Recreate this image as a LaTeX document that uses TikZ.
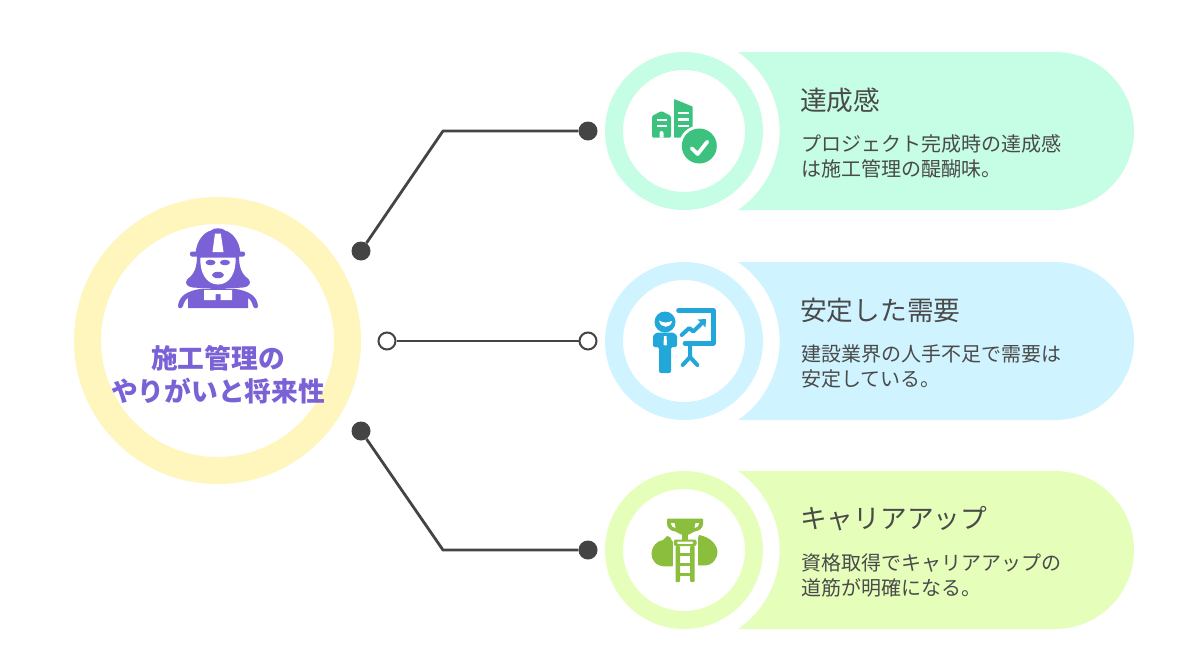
\documentclass[tikz,border=0pt]{standalone}
\usepackage{fontspec}
\setmainfont{Noto Sans CJK JP}
\definecolor{txtdark}{HTML}{4A4A4A}
\definecolor{dk}{HTML}{444444}
\definecolor{yel}{HTML}{FEF6BC}
\definecolor{pur}{HTML}{7A62D6}
\definecolor{gr}{HTML}{C6FDE5}
\definecolor{grd}{HTML}{3CC27E}
\definecolor{bl}{HTML}{D0F4FF}
\definecolor{bld}{HTML}{22A7DB}
\definecolor{li}{HTML}{E5FFBB}
\definecolor{lid}{HTML}{8ABE3C}
\tikzset{
  titlet/.style={anchor=west,inner sep=0pt,font=\fontsize{26.7}{30}\selectfont,text=txtdark},
  bodyt/.style={anchor=west,inner sep=0pt,align=left,font=\fontsize{20}{25}\selectfont,text=txtdark},
  dotf/.style={circle,fill=dk,minimum size=19pt,inner sep=0pt},
  doto/.style={circle,fill=white,draw=dk,line width=2pt,minimum size=17pt,inner sep=0pt},
  conn/.style={draw=dk,line width=2.8pt,line join=round},
  ringn/.style={circle,draw=#1,line width=18pt,fill=white,minimum size=140pt,inner sep=0pt},
  wl/.style={draw=white,line cap=round,line join=round},
  bluel/.style={draw=bld,line cap=round,line join=round},
}
\begin{document}
\begin{tikzpicture}[x=1pt,y=-1pt]
\useasboundingbox (0,0) rectangle (1200,672);
\fill[white] (0,0) rectangle (1200,672);

% hub
\node[circle,draw=yel,line width=27pt,fill=white,minimum size=260pt,inner sep=0pt] (hub) at (217.5,340.5) {};
\node[inner sep=0pt,align=center,text=pur,font=\fontsize{26.7}{33}\selectfont\bfseries] (hubt) at (218,374.5) {施工管理の\\やりがいと将来性};

% worker icon
\fill[pur,rounded corners=2pt] (190,251.5) -- (245,251.5) -- (245,256.5) -- (190,256.5) -- cycle;
\fill[pur] (195.5,253) .. controls (197,239) and (205,232) .. (211,230.5) .. controls (214,227.5) and (222,227.5) .. (225,230.5) .. controls (231,232) and (239,239) .. (240.5,253) -- cycle;
\fill[white] (215,233.5) -- (220.8,233.5) -- (223.5,252) -- (212.5,252) -- cycle;
\fill[pur] (197,256) .. controls (197,266) and (195,274) .. (187.5,279) .. controls (184,283) and (187,287) .. (193,287.5) .. controls (200,288.5) and (208,287) .. (212,289) -- (224,289) .. controls (228,287) and (236,288.5) .. (243,287.5) .. controls (249,287) and (252,283) .. (248.5,279) .. controls (241,274) and (239,266) .. (239,256) -- cycle;
\fill[white] (200.5,257.5) -- (235.5,257.5) .. controls (236.5,272) and (230,284.5) .. (218,284.5) .. controls (206,284.5) and (199.5,272) .. (200.5,257.5) -- cycle;
\fill[pur] (210.5,262.5) ellipse [x radius=5,y radius=2.8];
\fill[pur] (225,262.5) ellipse [x radius=5,y radius=2.8];
\fill[pur] (218,275) ellipse [x radius=6,y radius=3.2];
\fill[pur] (178,306) .. controls (179,297) and (185,291) .. (203,288.5) -- (233,288.5) .. controls (251,291) and (257,297) .. (258,306) .. controls (258,309) and (254,309) .. (253,306) .. controls (252,302) and (250,299) .. (248,298) -- (248,308) -- (188,308) -- (188,298) .. controls (186,299) and (184,302) .. (183,306) .. controls (182,309) and (178,309) .. (178,306) -- cycle;
\fill[white] (204,290) -- (232,290) -- (232,300) -- (220.5,300) -- (220.5,294) -- (215.5,294) -- (215.5,300) -- (204,300) -- cycle;

% cards
\fill[gr] (738,52) -- (1055,52) arc (-90:90:79) -- (738,210) arc (55.6:-55.6:95.7) -- cycle;
\fill[bl] (738,262) -- (1055,262) arc (-90:90:79) -- (738,420) arc (55.6:-55.6:95.7) -- cycle;
\fill[li] (738,471) -- (1055,471) arc (-90:90:79) -- (738,629) arc (55.6:-55.6:95.7) -- cycle;
\node[ringn=gr] (r1) at (684,131) {};
\node[ringn=bl] (r2) at (684,341) {};
\node[ringn=li] (r3) at (684,550) {};

% texts
\node[titlet] (t1) at (800,100) {達成感};
\node[bodyt] (b1) at (801,156.5) {プロジェクト完成時の達成感\\は施工管理の醍醐味。};
\node[titlet] (t2) at (800,310) {安定した需要};
\node[bodyt] (b2) at (801,366) {建設業界の人手不足で需要は\\安定している。};
\node[titlet] (t3) at (800,519) {キャリアアップ};
\node[bodyt] (b3) at (801,575) {資格取得でキャリアアップの\\道筋が明確になる。};

% connectors
\node[dotf] (a1) at (361,251) {};
\node[dotf] (a2) at (588,131) {};
\coordinate (k1) at (443,131);
\draw[conn] (a1) -- (k1) -- (a2);
\node[doto] (c1) at (387,341) {};
\node[doto] (c2) at (588,341) {};
\draw[conn] (c1) -- (c2);
\node[dotf] (e1) at (361,431) {};
\node[dotf] (e2) at (588,550) {};
\coordinate (k2) at (443,550);
\draw[conn] (e1) -- (k2) -- (e2);

% building icon
\fill[grd,rounded corners=1.2pt] (652,116) -- (661.5,111) -- (671,116) -- (671,137.5) -- (652,137.5) -- cycle;
\fill[grd,rounded corners=0.6pt] (674,99) -- (692.5,106.5) -- (692.5,137.5) -- (674,137.5) -- cycle;
\fill[white] (656.5,118.5) rectangle (667,120.8);
\fill[white] (656.5,124.5) rectangle (667,126.8);
\fill[white] (659.5,137.5) -- (659.5,133) arc (180:360:2) -- (663.5,137.5) -- cycle;
\fill[white] (678,111.8) rectangle (688.5,114.2);
\fill[white] (678,118.2) rectangle (688.5,120.6);
\fill[white] (678,124.6) rectangle (688.5,127);
\fill[white] (699.3,146) circle (20.5);
\fill[grd] (699.3,146) circle (17.5);
\draw[wl,line width=3.8pt] (691.7,148.3) -- (697.7,154) -- (707.3,141.7);

% presenter icon
\draw[bluel,line width=4.6pt] (678.5,310.5) -- (713.3,310.5) -- (713.3,343.3) -- (685,343.3);
\draw[bluel,line width=4pt] (690,343.3) -- (690,357) -- (682.7,365);
\draw[bluel,line width=4pt] (690,357) -- (697.3,365);
\draw[bluel,line width=4pt] (681.7,335) -- (689.3,328) -- (693.3,331.5) -- (701,324);
\fill[bld] (697.5,319.5) -- (706,319) -- (705.5,327.5) -- cycle;
\fill[bld] (665,322) circle (10.5);
\fill[white] (659,320.5) .. controls (663,323) and (667,323) .. (672,321) .. controls (671,328.5) and (660.5,329) .. (659,320.5) -- cycle;
\fill[bld,rounded corners=2pt] (653,347) -- (653,339) .. controls (653,334) and (657,332.5) .. (661,332.5) -- (669,332.5) .. controls (673,332.5) and (677,334) .. (677,339) -- (677,347) -- (671,347) -- (671,373) -- (659,373) -- (659,347) -- cycle;
\fill[white] (664,336) -- (666.5,336) -- (667,345) -- (665.2,345.5) -- (663.5,345) -- cycle;

% ladder icon
\fill[lid] (667,536) -- (670,537) -- (672,541) -- (678,546) -- (678,566) -- (666,566.5) .. controls (656,566.5) and (651,560) .. (651.5,553) .. controls (652,546) and (657,541) .. (663,540) -- cycle;
\fill[lid] (699,535) -- (697,541) -- (691,546) -- (691,565) -- (703,565.5) .. controls (713,566) and (717.5,558) .. (717.5,552) .. controls (717,544) and (710,537) .. (699,535) -- cycle;
\fill[white] (673,538) rectangle (697.5,584);
\fill[lid,rounded corners=2pt] (673.8,539.5) rectangle (696.5,546);
\fill[white,rounded corners=1pt] (677,541.7) rectangle (693.3,543.9);
\fill[lid] (681.7,532) rectangle (687.9,540);
\fill[lid,rounded corners=1pt] (667,518.5) -- (703,518.5) -- (703,523) .. controls (703,528) and (699,531) .. (694,531.5) .. controls (691,534) and (688,535) .. (685,535) .. controls (682,535) and (679,534) .. (676,531.5) .. controls (671,531) and (667,528) .. (667,523) -- cycle;
\fill[white] (670.8,523) -- (674.5,523) -- (675.5,528) .. controls (672.5,527.5) and (671,526) .. (670.8,523) -- cycle;
\fill[white] (699.2,523) -- (695.5,523) -- (694.5,528) .. controls (697.5,527.5) and (699,526) .. (699.2,523) -- cycle;
\fill[lid,rounded corners=0.8pt] (675.7,546) rectangle (680,582);
\fill[lid,rounded corners=0.8pt] (690.2,546) rectangle (694.5,582);
\fill[lid] (679,552.5) rectangle (691,556);
\fill[lid] (679,562.5) rectangle (691,566);
\fill[lid] (679,572.5) rectangle (691,575.8);
\end{tikzpicture}
\end{document}
